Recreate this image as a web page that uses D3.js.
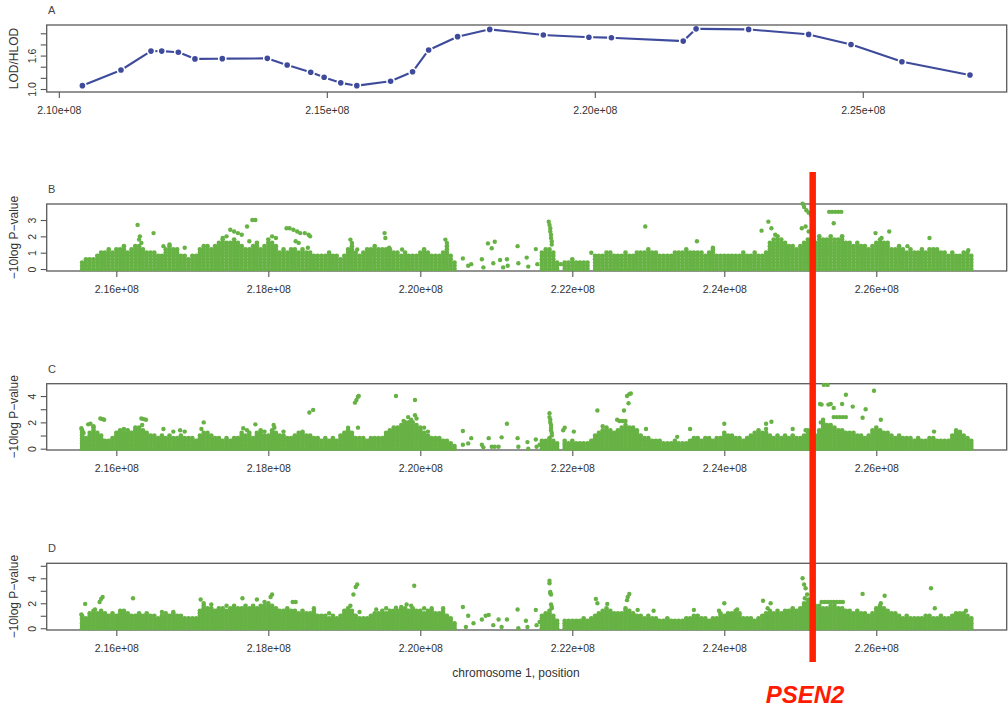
<!DOCTYPE html>
<html><head><meta charset="utf-8">
<script src="https://cdn.jsdelivr.net/npm/d3@7/dist/d3.min.js"></script>
<style>body{margin:0;background:#fff}svg{display:block}</style>
</head><body>
<svg id="c" width="1008" height="709"></svg>
<script>
// ---------- DATA (positions in Mb on chromosome 1) ----------
// Panel A: LOD/HLOD linkage curve
const lodPos = [210.44,211.16,211.72,211.92,212.23,212.54,213.05,213.89,214.26,214.70,214.95,215.26,215.56,216.19,216.60,216.90,217.44,218.04,219.04,219.89,220.31,221.65,221.89,222.87,223.99,224.78,225.73,227.00];
const lodVal = [1.06,1.34,1.68,1.68,1.66,1.54,1.545,1.55,1.43,1.30,1.21,1.11,1.06,1.14,1.31,1.70,1.94,2.07,1.97,1.93,1.92,1.86,2.08,2.07,1.98,1.80,1.49,1.25];

const xTicksA = [210,215,220,225];
const xLabelsA = ["2.10e+08","2.15e+08","2.20e+08","2.25e+08"];
const yTicksA = [1.0,1.2,1.4,1.6,1.8,2.0];
const yLabelsA = ["1.0","","","1.6","",""];

const xTicksP = [216,218,220,222,224,226];
const xLabelsP = ["2.16e+08","2.18e+08","2.20e+08","2.22e+08","2.24e+08","2.26e+08"];
const yTicksB = [0,1,2,3];
const yLabelsB = ["0","1","2","3"];
const yTicksC = [0,1,2,3,4];
const yLabelsC = ["0","","2","","4"];
const yTicksD = [0,1,2,3,4,5];
const yLabelsD = ["0","","2","","4",""];

const psen2Pos = 225.163;

// Panel B: SNP -10log P (columns: position, then the values of the SNPs there)
const bandB = [
[215.55,0,.2,.4],[215.60,0,.2,.4,.6],[215.65,0,.2,.4,.6],[215.70,0,.2,.4,.6],[215.75,0,.2,.4,.6,.8],
[215.80,0,.2,.4,.6,.8,1],[215.85,0,.2,.4,.6,.8,1],[215.90,0,.2,.4,.6,.8,1,1.2],[215.95,0,.2,.4,.6,.8,1],
[216.00,0,.2,.4,.6,.8,1,1.2],[216.05,0,.2,.4,.6,.8,1,1.2],[216.10,0,.2,.4,.6,.8,1,1.2,1.4],[216.15,0,.2,.4,.6,.8,1],
[216.20,0,.2,.4,.6,.8,1,1.2],[216.25,0,.2,.4,.6,.8,1,1.2,1.4],[216.30,0,.2,.4,.6,.8,1,1.2,1.4],[216.35,0,.2,.4,.6,.8,1,1.2],
[216.40,0,.2,.4,.6,.8,1],[216.45,0,.2,.4,.6,.8,1],[216.50,0,.2,.4,.6,.8,1],[216.55,0,.2,.4,.6,.8],[216.60,0,.2,.4,.6,.8],
[216.65,0,.2,.4,.6,.8,1,1.2],[216.70,0,.2,.4,.6,.8,1,1.2,1.4],[216.75,0,.2,.4,.6,.8,1,1.2],[216.80,0,.2,.4,.6,.8,1,1.2],
[216.85,0,.2,.4,.6,.8],[216.90,0,.2,.4,.6,.8],[216.95,0,.2,.4,.6],[217.00,0,.2,.4,.6,.8],[217.05,0,.2,.4,.6,.8],
[217.10,0,.2,.4,.6,.8,1,1.2],[217.15,0,.2,.4,.6,.8,1,1.2,1.4],[217.20,0,.2,.4,.6,.8,1,1.2,1.4],[217.25,0,.2,.4,.6,.8,1,1.2],
[217.30,0,.2,.4,.6,.8,1,1.2,1.4],[217.35,0,.2,.4,.6,.8,1,1.2,1.4,1.6],[217.40,0,.2,.4,.6,.8,1,1.2,1.4,1.6,1.8],
[217.45,0,.2,.4,.6,.8,1,1.2,1.4,1.6],[217.50,0,.2,.4,.6,.8,1,1.2,1.4,1.6],[217.55,0,.2,.4,.6,.8,1,1.2,1.4,1.6,1.8],
[217.60,0,.2,.4,.6,.8,1,1.2,1.4,1.6],[217.65,0,.2,.4,.6,.8,1,1.2,1.4],[217.70,0,.2,.4,.6,.8,1,1.2],[217.75,0,.2,.4,.6,.8,1,1.2],
[217.80,0,.2,.4,.6,.8,1,1.2,1.4],[217.85,0,.2,.4,.6,.8,1,1.2,1.4,1.6],[217.90,0,.2,.4,.6,.8,1,1.2],[217.95,0,.2,.4,.6,.8,1,1.2,1.4],
[218.00,0,.2,.4,.6,.8,1,1.2,1.4,1.6,1.8],[218.05,0,.2,.4,.6,.8,1,1.2,1.4,1.6],[218.10,0,.2,.4,.6,.8,1,1.2,1.4],[218.15,0,.2,.4,.6,.8,1],
[218.20,0,.2,.4,.6,.8,1,1.2],[218.25,0,.2,.4,.6,.8,1],[218.30,0,.2,.4,.6,.8,1,1.2],[218.35,0,.2,.4,.6,.8,1,1.2],[218.40,0,.2,.4,.6,.8,1],
[218.45,0,.2,.4,.6,.8,1,1.2],[218.50,0,.2,.4,.6,.8,1],[218.55,0,.2,.4,.6,.8,1],[218.60,0,.2,.4,.6,.8],[218.65,0,.2,.4,.6,.8],
[218.70,0,.2,.4,.6,.8],[218.75,0,.2,.4,.6,.8],[218.80,0,.2,.4,.6,.8,1],[218.85,0,.2,.4,.6,.8],[218.90,0,.2,.4,.6,.8],[218.95,0,.2,.4,.6],
[219.00,0,.2,.4,.6,.8],[219.05,0,.2,.4,.6,.8,1,1.2],[219.10,0,.2,.4,.6,.8,1,1.2,1.4],[219.15,0,.2,.4,.6,.8,1],[219.20,0,.2,.4,.6,.8],
[219.25,0,.2,.4,.6,.8,1],[219.30,0,.2,.4,.6,.8,1,1.2],[219.35,0,.2,.4,.6,.8,1,1.2],[219.40,0,.2,.4,.6,.8,1,1.2,1.4],
[219.45,0,.2,.4,.6,.8,1,1.2],[219.50,0,.2,.4,.6,.8,1,1.2],[219.55,0,.2,.4,.6,.8,1,1.2],[219.60,0,.2,.4,.6,.8,1,1.2],
[219.65,0,.2,.4,.6,.8,1],[219.70,0,.2,.4,.6,.8,1],[219.75,0,.2,.4,.6,.8],[219.80,0,.2,.4,.6,.8,1],[219.85,0,.2,.4,.6,.8],
[219.90,0,.2,.4,.6,.8],[219.95,0,.2,.4,.6,.8],[220.00,0,.2,.4,.6,.8,1],[220.05,0,.2,.4,.6,.8,1,1.2],[220.10,0,.2,.4,.6,.8,1],
[220.15,0,.2,.4,.6,.8],[220.20,0,.2,.4,.6,.8],[220.25,0,.2,.4,.6,.8],[220.30,0,.2,.4,.6,.8,1],[220.35,0,.2,.4,.6,.8,1,1.2,1.4],
[220.40,0,.2,.4,.6,.8],[220.45,0,.2,.4],
[221.60,0,.2,.4,.6,.8,1],[221.65,0,.2,.4,.6,.8,1,1.2],[221.70,0,.2,.4,.6,.8,1,1.2],[221.75,0,.2,.4,.6,.8,1],[221.80,0,.2,.4],
[221.90,0,.2,.4],[221.95,0,.2,.4],[222.00,0,.2,.4,.6],[222.05,0,.2,.4],[222.10,0,.2,.4],[222.15,0,.2,.4],[222.20,0,.2,.4],
[222.30,0,.2,.4,.6,.8],[222.35,0,.2,.4,.6,.8],[222.40,0,.2,.4,.6,.8],[222.45,0,.2,.4,.6,.8,1],[222.50,0,.2,.4,.6,.8,1],
[222.55,0,.2,.4,.6,.8],[222.60,0,.2,.4,.6,.8],[222.65,0,.2,.4,.6,.8],[222.70,0,.2,.4,.6,.8,1],[222.75,0,.2,.4,.6,.8],
[222.80,0,.2,.4,.6,.8],[222.85,0,.2,.4,.6,.8,1],[222.90,0,.2,.4,.6,.8,1],[222.95,0,.2,.4,.6,.8,1],[223.00,0,.2,.4,.6,.8,1,1.2],
[223.05,0,.2,.4,.6,.8,1],[223.10,0,.2,.4,.6,.8,1],[223.15,0,.2,.4,.6,.8],[223.20,0,.2,.4,.6,.8],[223.25,0,.2,.4,.6,.8],
[223.30,0,.2,.4,.6,.8],[223.35,0,.2,.4,.6,.8,1],[223.40,0,.2,.4,.6,.8,1],[223.45,0,.2,.4,.6,.8,1],[223.50,0,.2,.4,.6,.8,1,1.2],
[223.55,0,.2,.4,.6,.8,1],[223.60,0,.2,.4,.6,.8,1],[223.65,0,.2,.4,.6,.8,1],[223.70,0,.2,.4,.6,.8,1],[223.75,0,.2,.4,.6,.8],
[223.80,0,.2,.4,.6,.8,1],[223.85,0,.2,.4,.6,.8,1,1.2],[223.90,0,.2,.4,.6,.8],[223.95,0,.2,.4,.6,.8],[224.00,0,.2,.4,.6,.8],
[224.05,0,.2,.4,.6,.8],[224.10,0,.2,.4,.6,.8],[224.15,0,.2,.4,.6,.8],[224.20,0,.2,.4,.6,.8],[224.25,0,.2,.4,.6,.8,1],
[224.30,0,.2,.4,.6,.8],[224.35,0,.2,.4,.6,.8],[224.40,0,.2,.4,.6,.8,1],[224.45,0,.2,.4,.6,.8],[224.50,0,.2,.4,.6,.8],
[224.55,0,.2,.4,.6,.8,1],[224.60,0,.2,.4,.6,.8,1,1.2,1.4,1.6],[224.65,0,.2,.4,.6,.8,1,1.2,1.4,1.6,1.8],
[224.70,0,.2,.4,.6,.8,1,1.2,1.4,1.6,1.8,2],[224.75,0,.2,.4,.6,.8,1,1.2,1.4,1.6,1.8],[224.80,0,.2,.4,.6,.8,1,1.2,1.4,1.6],
[224.85,0,.2,.4,.6,.8,1,1.2,1.4],[224.90,0,.2,.4,.6,.8,1,1.2,1.4],[224.95,0,.2,.4,.6,.8,1,1.2],[225.00,0,.2,.4,.6,.8,1,1.2,1.4],
[225.05,0,.2,.4,.6,.8,1,1.2,1.4,1.6],[225.10,0,.2,.4,.6,.8,1,1.2,1.4,1.6,1.8],[225.15,0,.2,.4,.6,.8,1,1.2,1.4,1.6],
[225.20,0,.2,.4,.6,.8,1,1.2,1.4,1.6],[225.25,0,.2,.4,.6,.8,1,1.2,1.4,1.6,1.8,2],[225.30,0,.2,.4,.6,.8,1,1.2,1.4,1.6,1.8],
[225.35,0,.2,.4,.6,.8,1,1.2,1.4,1.6,1.8],[225.40,0,.2,.4,.6,.8,1,1.2,1.4,1.6,1.8,2],[225.45,0,.2,.4,.6,.8,1,1.2,1.4,1.6,1.8],
[225.50,0,.2,.4,.6,.8,1,1.2,1.4,1.6,1.8],[225.55,0,.2,.4,.6,.8,1,1.2,1.4,1.6,1.8,2],[225.60,0,.2,.4,.6,.8,1,1.2,1.4,1.6],
[225.65,0,.2,.4,.6,.8,1,1.2,1.4,1.6],[225.70,0,.2,.4,.6,.8,1,1.2,1.4],[225.75,0,.2,.4,.6,.8,1,1.2,1.4,1.6],
[225.80,0,.2,.4,.6,.8,1,1.2,1.4],[225.85,0,.2,.4,.6,.8,1,1.2,1.4],[225.90,0,.2,.4,.6,.8,1,1.2],[225.95,0,.2,.4,.6,.8,1,1.2,1.4],
[226.00,0,.2,.4,.6,.8,1,1.2,1.4,1.6],[226.05,0,.2,.4,.6,.8,1,1.2,1.4,1.6,1.8],[226.10,0,.2,.4,.6,.8,1,1.2,1.4,1.6],
[226.15,0,.2,.4,.6,.8,1,1.2,1.4,1.6],[226.20,0,.2,.4,.6,.8,1,1.2],[226.25,0,.2,.4,.6,.8,1,1.2],[226.30,0,.2,.4,.6,.8,1,1.2,1.4],
[226.35,0,.2,.4,.6,.8,1,1.2],[226.40,0,.2,.4,.6,.8,1],[226.45,0,.2,.4,.6,.8,1,1.2],[226.50,0,.2,.4,.6,.8,1],[226.55,0,.2,.4,.6,.8,1],
[226.60,0,.2,.4,.6,.8,1,1.2],[226.65,0,.2,.4,.6,.8,1],[226.70,0,.2,.4,.6,.8,1,1.2],[226.75,0,.2,.4,.6,.8,1,1.2],
[226.80,0,.2,.4,.6,.8,1,1.2],[226.85,0,.2,.4,.6,.8,1],[226.90,0,.2,.4,.6,.8,1],[226.95,0,.2,.4,.6,.8],[227.00,0,.2,.4,.6,.8,1],
[227.05,0,.2,.4,.6,.8],[227.10,0,.2,.4,.6,.8],[227.15,0,.2,.4,.6,.8,1],[227.20,0,.2,.4,.6,.8,1],[227.25,0,.2,.4,.6,.8]
];
const outB = [
[216.28,2.7],[216.31,2.0],[216.30,1.8],[216.33,1.6],[216.49,2.2],[216.62,1.4],[216.70,1.5],[216.90,1.3],[217.40,1.9],[217.45,2.0],
[217.50,2.4],[217.55,2.3],[217.60,2.2],[217.65,2.1],[217.72,2.6],[217.79,3.0],[217.83,3.0],[217.75,1.7],[218.10,1.9],[218.05,2.0],
[218.24,2.5],[218.28,2.5],[218.33,2.4],[218.38,2.3],[218.42,2.2],[218.48,2.2],[218.53,2.1],[218.55,2.0],[218.40,1.6],[218.36,1.7],
[218.52,1.3],[219.08,1.8],[219.10,1.6],[219.17,1.2],[219.53,2.2],[219.54,1.9],[219.59,1.3],[219.76,1.2],[220.33,1.8],[220.35,1.6],
[220.56,.65],[220.63,.2],[220.67,.3],[220.81,.6],[220.83,.1],[220.89,1.57],[220.94,1.27],[220.98,1.67],[220.96,.35],[221.05,.55],
[221.09,.1],[221.14,.6],[221.15,.2],[221.28,1.4],[221.29,.35],[221.40,.7],[221.42,.15],[221.52,1.22],[221.54,.3],
[221.69,2.9],[221.70,2.7],[221.71,2.5],[221.71,2.3],[221.72,2.1],[221.72,1.9],[221.73,1.7],[221.73,1.5],[221.85,.3],
[222.25,1.0],[222.96,2.6],[223.64,1.7],[223.85,1.3],[224.49,2.35],[224.58,2.9],[224.62,2.5],[224.67,2.1],
[225.03,4.0],[225.05,3.8],[225.08,3.6],[225.11,3.45],[225.14,3.3],[225.07,2.6],[225.11,2.3],[225.02,2.5],
[225.38,3.5],[225.42,3.5],[225.46,3.5],[225.50,3.5],[225.54,3.5],[225.44,2.8],[225.99,2.2],[226.17,2.3],[226.07,1.9],
[226.41,1.4],[226.70,1.9],[227.21,1.15]
];

// Panel C
const bandC = [
[215.55,0,.2,.4,.6,.8,1,1.2,1.4],[215.60,0,.2,.4,.6,.8],[215.65,0,.2,.4,.6,.8,1,1.2],[215.70,0,.2,.4,.6,.8,1,1.2,1.4,1.6],
[215.75,0,.2,.4,.6,.8,1,1.2],[215.80,0,.2,.4,.6,.8,1],[215.85,0,.2,.4,.6],[215.90,0,.2,.4,.6],[215.95,0,.2,.4,.6,.8],
[216.00,0,.2,.4,.6,.8,1,1.2],[216.05,0,.2,.4,.6,.8,1,1.2,1.4],[216.10,0,.2,.4,.6,.8,1,1.2],[216.15,0,.2,.4,.6,.8,1,1.2,1.4],
[216.20,0,.2,.4,.6,.8,1,1.2],[216.25,0,.2,.4,.6,.8,1,1.2,1.4,1.6],[216.30,0,.2,.4,.6,.8,1,1.2,1.4,1.6],[216.35,0,.2,.4,.6,.8,1,1.2,1.4],
[216.40,0,.2,.4,.6,.8,1,1.2],[216.45,0,.2,.4,.6,.8,1],[216.50,0,.2,.4,.6,.8,1],[216.55,0,.2,.4,.6,.8],[216.60,0,.2,.4,.6,.8,1],
[216.65,0,.2,.4,.6,.8],[216.70,0,.2,.4,.6,.8,1],[216.75,0,.2,.4,.6,.8],[216.80,0,.2,.4,.6,.8],[216.85,0,.2,.4,.6,.8,1],
[216.90,0,.2,.4,.6,.8],[216.95,0,.2,.4,.6,.8],[217.00,0,.2,.4,.6,.8],[217.05,0,.2,.4,.6],[217.10,0,.2,.4,.6,.8,1],
[217.15,0,.2,.4,.6,.8,1,1.2],[217.20,0,.2,.4,.6,.8,1,1.2],[217.25,0,.2,.4,.6,.8,1],[217.30,0,.2,.4,.6,.8],[217.35,0,.2,.4,.6,.8],
[217.40,0,.2,.4,.6],[217.45,0,.2,.4,.6,.8],[217.50,0,.2,.4,.6],[217.55,0,.2,.4,.6,.8],[217.60,0,.2,.4,.6,.8],
[217.65,0,.2,.4,.6,.8,1,1.2],[217.70,0,.2,.4,.6,.8,1],[217.75,0,.2,.4,.6,.8,1,1.2],[217.80,0,.2,.4,.6,.8],[217.85,0,.2,.4,.6,.8,1,1.2],
[217.90,0,.2,.4,.6,.8,1,1.2,1.4],[217.95,0,.2,.4,.6,.8,1],[218.00,0,.2,.4,.6,.8,1],[218.05,0,.2,.4,.6,.8,1,1.2,1.4],
[218.10,0,.2,.4,.6,.8,1,1.2],[218.15,0,.2,.4,.6,.8,1],[218.20,0,.2,.4,.6,.8,1],[218.25,0,.2,.4,.6,.8],[218.30,0,.2,.4,.6,.8],
[218.35,0,.2,.4,.6,.8,1],[218.40,0,.2,.4,.6,.8,1,1.2],[218.45,0,.2,.4,.6,.8,1,1.2],[218.50,0,.2,.4,.6,.8,1],[218.55,0,.2,.4,.6,.8,1],
[218.60,0,.2,.4,.6,.8],[218.65,0,.2,.4,.6,.8],[218.70,0,.2,.4,.6],[218.75,0,.2,.4,.6,.8],[218.80,0,.2,.4,.6],[218.85,0,.2,.4,.6,.8],
[218.90,0,.2,.4,.6],[218.95,0,.2,.4,.6,.8,1],[219.00,0,.2,.4,.6,.8,1,1.2],[219.05,0,.2,.4,.6,.8,1,1.2,1.4],[219.10,0,.2,.4,.6,.8,1,1.2],
[219.15,0,.2,.4,.6,.8],[219.20,0,.2,.4,.6,.8],[219.25,0,.2,.4,.6,.8],[219.30,0,.2,.4,.6],[219.35,0,.2,.4,.6,.8],[219.40,0,.2,.4,.6,.8],
[219.45,0,.2,.4,.6,.8],[219.50,0,.2,.4,.6,.8],[219.55,0,.2,.4,.6,.8,1,1.2],[219.60,0,.2,.4,.6,.8,1,1.2,1.4],
[219.65,0,.2,.4,.6,.8,1,1.2,1.4,1.6],[219.70,0,.2,.4,.6,.8,1,1.2,1.4,1.6],[219.75,0,.2,.4,.6,.8,1,1.2,1.4,1.6,1.8],
[219.80,0,.2,.4,.6,.8,1,1.2,1.4,1.6,1.8,2],[219.85,0,.2,.4,.6,.8,1,1.2,1.4,1.6,1.8,2],[219.90,0,.2,.4,.6,.8,1,1.2,1.4,1.6,1.8,2],
[219.95,0,.2,.4,.6,.8,1,1.2,1.4,1.6,1.8],[220.00,0,.2,.4,.6,.8,1,1.2,1.4,1.6],[220.05,0,.2,.4,.6,.8,1,1.2],[220.10,0,.2,.4,.6,.8,1],
[220.15,0,.2,.4,.6,.8],[220.20,0,.2,.4,.6,.8],[220.25,0,.2,.4,.6,.8],[220.30,0,.2,.4,.6],[220.35,0,.2,.4,.6],[220.40,0,.2,.4],[220.45,0,.2],
[221.60,0,.2,.4,.6],[221.65,0,.2,.4,.6],[221.70,0,.2,.4,.6,.8],[221.75,0,.2,.4,.6],[221.80,0,.2,.4],
[221.90,0,.2,.4,.6],[221.95,0,.2,.4],[222.00,0,.2,.4,.6],[222.05,0,.2,.4],[222.10,0,.2,.4],[222.15,0,.2,.4],[222.20,0,.2,.4],
[222.25,0,.2,.4,.6],[222.30,0,.2,.4,.6,.8,1],[222.35,0,.2,.4,.6,.8,1,1.2],[222.40,0,.2,.4,.6,.8,1,1.2,1.4],
[222.45,0,.2,.4,.6,.8,1,1.2,1.4,1.6],[222.50,0,.2,.4,.6,.8,1,1.2,1.4],[222.55,0,.2,.4,.6,.8,1,1.2],[222.60,0,.2,.4,.6,.8,1,1.2,1.4],
[222.65,0,.2,.4,.6,.8,1,1.2,1.4,1.6],[222.70,0,.2,.4,.6,.8,1,1.2,1.4,1.6,1.8],[222.75,0,.2,.4,.6,.8,1,1.2,1.4,1.6],
[222.80,0,.2,.4,.6,.8,1,1.2,1.4,1.6],[222.85,0,.2,.4,.6,.8,1,1.2,1.4],[222.90,0,.2,.4,.6,.8,1],[222.95,0,.2,.4,.6,.8],
[223.00,0,.2,.4,.6,.8],[223.05,0,.2,.4,.6],[223.10,0,.2,.4,.6],[223.15,0,.2,.4,.6],[223.20,0,.2,.4],[223.25,0,.2,.4],[223.30,0,.2,.4],
[223.35,0,.2,.4,.6],[223.40,0,.2,.4],[223.45,0,.2,.4],[223.50,0,.2,.4],[223.55,0,.2,.4,.6],[223.60,0,.2,.4,.6,.8],[223.65,0,.2,.4,.6,.8],
[223.70,0,.2,.4,.6],[223.75,0,.2,.4,.6,.8],[223.80,0,.2,.4,.6,.8],[223.85,0,.2,.4,.6],[223.90,0,.2,.4,.6,.8],[223.95,0,.2,.4,.6,.8],
[224.00,0,.2,.4,.6,.8,1,1.2],[224.05,0,.2,.4,.6,.8,1],[224.10,0,.2,.4,.6,.8,1],[224.15,0,.2,.4,.6,.8],[224.20,0,.2,.4,.6,.8],
[224.25,0,.2,.4,.6],[224.30,0,.2,.4,.6,.8],[224.35,0,.2,.4,.6,.8,1],[224.40,0,.2,.4,.6,.8,1,1.2],[224.45,0,.2,.4,.6,.8,1,1.2,1.4],
[224.50,0,.2,.4,.6,.8,1,1.2],[224.55,0,.2,.4,.6,.8,1,1.2],[224.60,0,.2,.4,.6,.8,1],[224.65,0,.2,.4,.6,.8],[224.70,0,.2,.4,.6,.8,1],
[224.75,0,.2,.4,.6,.8],[224.80,0,.2,.4,.6,.8,1],[224.85,0,.2,.4,.6,.8],[224.90,0,.2,.4,.6,.8,1],[224.95,0,.2,.4,.6,.8],
[225.00,0,.2,.4,.6,.8],[225.05,0,.2,.4,.6,.8,1],[225.10,0,.2,.4,.6,.8,1,1.2],[225.15,0,.2,.4,.6,.8,1],[225.20,0,.2,.4,.6,.8,1],
[225.25,0,.2,.4,.6,.8,1,1.2,1.4],[225.30,0,.2,.4,.6,.8,1,1.2,1.4,1.6,1.8,2],[225.35,0,.2,.4,.6,.8,1,1.2,1.4,1.6,1.8],
[225.40,0,.2,.4,.6,.8,1,1.2,1.4,1.6,1.8],[225.45,0,.2,.4,.6,.8,1,1.2,1.4,1.6],[225.50,0,.2,.4,.6,.8,1,1.2,1.4],
[225.55,0,.2,.4,.6,.8,1,1.2,1.4],[225.60,0,.2,.4,.6,.8,1,1.2],[225.65,0,.2,.4,.6,.8,1,1.2],[225.70,0,.2,.4,.6,.8,1,1.2],
[225.75,0,.2,.4,.6,.8,1],[225.80,0,.2,.4,.6,.8,1],[225.85,0,.2,.4,.6,.8],[225.90,0,.2,.4,.6,.8,1],[225.95,0,.2,.4,.6,.8,1,1.2,1.4],
[226.00,0,.2,.4,.6,.8,1,1.2,1.4,1.6],[226.05,0,.2,.4,.6,.8,1,1.2,1.4],[226.10,0,.2,.4,.6,.8,1,1.2],[226.15,0,.2,.4,.6,.8,1,1.2],
[226.20,0,.2,.4,.6,.8,1],[226.25,0,.2,.4,.6,.8],[226.30,0,.2,.4,.6,.8,1],[226.35,0,.2,.4,.6,.8],[226.40,0,.2,.4,.6,.8],
[226.45,0,.2,.4,.6,.8],[226.50,0,.2,.4,.6],[226.55,0,.2,.4,.6,.8],[226.60,0,.2,.4,.6],[226.65,0,.2,.4,.6],[226.70,0,.2,.4,.6,.8],
[226.75,0,.2,.4,.6,.8],[226.80,0,.2,.4,.6],[226.85,0,.2,.4,.6],[226.90,0,.2,.4,.6],[226.95,0,.2,.4,.6],[227.00,0,.2,.4,.6,.8,1],
[227.05,0,.2,.4,.6,.8,1,1.2],[227.10,0,.2,.4,.6,.8,1,1.2],[227.15,0,.2,.4,.6,.8,1],[227.20,0,.2,.4,.6,.8],[227.25,0,.2,.4,.6]
];
const outC = [
[215.54,1.55],[215.57,1.2],[215.63,1.85],[215.66,1.9],[215.70,1.7],[215.79,2.3],[215.82,2.25],[215.84,2.2],[216.10,1.5],
[216.33,2.3],[216.36,2.25],[216.39,2.2],[216.34,1.8],[216.62,1.5],[216.75,1.3],[216.90,1.3],[216.84,1.4],[217.15,2.0],[217.12,1.5],
[217.67,1.55],[217.72,1.4],[217.83,1.85],[217.95,1.3],[218.07,1.8],[218.08,1.6],[218.20,1.3],[218.54,2.75],[218.59,2.95],[218.45,1.3],
[219.05,1.6],[219.14,3.5],[219.16,3.7],[219.18,3.95],[219.19,4.0],[219.18,1.6],[219.68,4.0],[219.93,3.7],[219.84,2.4],[219.93,2.55],
[219.95,2.3],[219.88,2.2],[219.78,2.1],[220.05,1.6],[220.10,1.3],
[220.56,1.35],[220.56,.3],[220.63,.4],[220.67,.8],[220.81,.3],[220.83,.1],[220.90,.8],[220.94,.15],[220.98,.15],[221.03,.15],
[221.07,.86],[221.14,1.9],[221.28,.8],[221.29,.15],[221.41,.5],[221.42,0],[221.52,.7],[221.53,.15],[221.57,.3],
[221.70,2.7],[221.70,2.4],[221.71,2.2],[221.71,2.0],[221.72,1.8],[221.72,1.6],[221.72,1.4],[221.73,1.2],[221.73,1.0],
[221.88,1.4],[221.90,1.6],[222.02,1.3],[222.33,2.9],[222.40,1.7],[222.59,2.2],[222.68,2.9],[222.74,3.45],[222.72,4.0],[222.75,4.15],
[222.77,4.2],[222.62,2.1],[222.66,2.1],[222.70,2.1],[222.97,1.5],[223.38,.9],[223.55,1.5],[224.00,1.9],[224.55,1.9],[224.62,2.05],
[224.55,1.5],[224.90,1.5],[225.07,1.4],[225.10,1.4],
[225.26,3.4],[225.28,3.35],[225.31,4.85],[225.36,4.85],[225.37,3.35],[225.40,3.4],[225.44,3.1],[225.30,2.2],[225.27,2.0],
[225.44,2.4],[225.48,2.4],[225.52,2.4],[225.56,2.4],[225.60,2.4],[225.60,4.1],[225.55,3.4],[225.69,3.2],[225.82,2.35],[225.86,3.0],
[225.97,4.4],[226.06,2.2],[226.76,1.3],[227.05,1.4],[227.10,1.3]
];

// Panel D
const bandD = [
[215.55,0,.2,.4,.6,.8,1],[215.60,0,.2,.4,.6,.8],[215.65,0,.2,.4,.6,.8,1,1.2],[215.70,0,.2,.4,.6,.8,1,1.2,1.4],
[215.75,0,.2,.4,.6,.8,1,1.2],[215.80,0,.2,.4,.6,.8,1,1.2,1.4],[215.85,0,.2,.4,.6,.8,1,1.2],[215.90,0,.2,.4,.6,.8,1],
[215.95,0,.2,.4,.6,.8,1,1.2],[216.00,0,.2,.4,.6,.8,1],[216.05,0,.2,.4,.6,.8,1,1.2],[216.10,0,.2,.4,.6,.8,1,1.2,1.4],
[216.15,0,.2,.4,.6,.8,1,1.2],[216.20,0,.2,.4,.6,.8,1],[216.25,0,.2,.4,.6,.8,1],[216.30,0,.2,.4,.6,.8,1,1.2],[216.35,0,.2,.4,.6,.8,1],
[216.40,0,.2,.4,.6,.8,1,1.2],[216.45,0,.2,.4,.6,.8,1],[216.50,0,.2,.4,.6,.8,1],[216.55,0,.2,.4,.6,.8],[216.60,0,.2,.4,.6,.8,1],
[216.65,0,.2,.4,.6,.8,1,1.2],[216.70,0,.2,.4,.6,.8,1],[216.75,0,.2,.4,.6,.8,1,1.2],[216.80,0,.2,.4,.6,.8,1],[216.85,0,.2,.4,.6,.8,1],
[216.90,0,.2,.4,.6,.8],[216.95,0,.2,.4,.6,.8],[217.00,0,.2,.4,.6,.8],[217.05,0,.2,.4,.6,.8],[217.10,0,.2,.4,.6,.8,1,1.2,1.4],
[217.15,0,.2,.4,.6,.8,1,1.2,1.4,1.6,1.8],[217.20,0,.2,.4,.6,.8,1,1.2,1.4,1.6],[217.25,0,.2,.4,.6,.8,1,1.2,1.4,1.6],
[217.30,0,.2,.4,.6,.8,1,1.2,1.4],[217.35,0,.2,.4,.6,.8,1,1.2,1.4,1.6],[217.40,0,.2,.4,.6,.8,1,1.2,1.4,1.6],
[217.45,0,.2,.4,.6,.8,1,1.2,1.4],[217.50,0,.2,.4,.6,.8,1,1.2,1.4,1.6],[217.55,0,.2,.4,.6,.8,1,1.2,1.4,1.6,1.8],
[217.60,0,.2,.4,.6,.8,1,1.2,1.4,1.6],[217.65,0,.2,.4,.6,.8,1,1.2,1.4,1.6],[217.70,0,.2,.4,.6,.8,1,1.2,1.4,1.6,1.8],
[217.75,0,.2,.4,.6,.8,1,1.2,1.4,1.6],[217.80,0,.2,.4,.6,.8,1,1.2,1.4,1.6,1.8],[217.85,0,.2,.4,.6,.8,1,1.2,1.4,1.6],
[217.90,0,.2,.4,.6,.8,1,1.2,1.4,1.6,1.8],[217.95,0,.2,.4,.6,.8,1,1.2,1.4,1.6,1.8],[218.00,0,.2,.4,.6,.8,1,1.2,1.4,1.6,1.8,2],
[218.05,0,.2,.4,.6,.8,1,1.2,1.4,1.6,1.8],[218.10,0,.2,.4,.6,.8,1,1.2,1.4,1.6],[218.15,0,.2,.4,.6,.8,1,1.2,1.4],
[218.20,0,.2,.4,.6,.8,1,1.2,1.4],[218.25,0,.2,.4,.6,.8,1,1.2,1.4,1.6],[218.30,0,.2,.4,.6,.8,1,1.2,1.4],[218.35,0,.2,.4,.6,.8,1,1.2,1.4],
[218.40,0,.2,.4,.6,.8,1,1.2],[218.45,0,.2,.4,.6,.8,1,1.2,1.4],[218.50,0,.2,.4,.6,.8,1,1.2],[218.55,0,.2,.4,.6,.8,1,1.2],
[218.60,0,.2,.4,.6,.8,1,1.2,1.4],[218.65,0,.2,.4,.6,.8,1],[218.70,0,.2,.4,.6,.8,1],[218.75,0,.2,.4,.6,.8,1],[218.80,0,.2,.4,.6,.8],
[218.85,0,.2,.4,.6,.8,1],[218.90,0,.2,.4,.6,.8],[218.95,0,.2,.4,.6,.8,1],[219.00,0,.2,.4,.6,.8,1,1.2,1.4],
[219.05,0,.2,.4,.6,.8,1,1.2,1.4,1.6],[219.10,0,.2,.4,.6,.8,1,1.2,1.4],[219.15,0,.2,.4,.6,.8,1],[219.20,0,.2,.4,.6,.8],
[219.25,0,.2,.4,.6,.8],[219.30,0,.2,.4,.6,.8],[219.35,0,.2,.4,.6,.8,1],[219.40,0,.2,.4,.6,.8,1,1.2],[219.45,0,.2,.4,.6,.8,1,1.2],
[219.50,0,.2,.4,.6,.8,1,1.2,1.4],[219.55,0,.2,.4,.6,.8,1,1.2],[219.60,0,.2,.4,.6,.8,1,1.2,1.4],[219.65,0,.2,.4,.6,.8,1,1.2,1.4],
[219.70,0,.2,.4,.6,.8,1,1.2,1.4],[219.75,0,.2,.4,.6,.8,1,1.2,1.4,1.6],[219.80,0,.2,.4,.6,.8,1,1.2,1.4,1.6],
[219.85,0,.2,.4,.6,.8,1,1.2,1.4],[219.90,0,.2,.4,.6,.8,1,1.2,1.4,1.6],[219.95,0,.2,.4,.6,.8,1,1.2,1.4],
[220.00,0,.2,.4,.6,.8,1,1.2,1.4],[220.05,0,.2,.4,.6,.8,1,1.2],[220.10,0,.2,.4,.6,.8,1,1.2,1.4],[220.15,0,.2,.4,.6,.8,1,1.2,1.4],
[220.20,0,.2,.4,.6,.8,1,1.2],[220.25,0,.2,.4,.6,.8,1,1.2],[220.30,0,.2,.4,.6,.8,1,1.2,1.4],[220.35,0,.2,.4,.6,.8,1],
[220.40,0,.2,.4,.6,.8],[220.45,0,.2,.4],
[221.60,0,.2,.4,.6,.8,1],[221.65,0,.2,.4,.6,.8,1,1.2],[221.70,0,.2,.4,.6,.8,1,1.2,1.4],[221.75,0,.2,.4,.6,.8,1],[221.80,0,.2,.4,.6],
[221.90,0,.2,.4,.6],[221.95,0,.2,.4,.6],[222.00,0,.2,.4,.6],[222.05,0,.2,.4,.6],[222.10,0,.2,.4,.6],[222.15,0,.2,.4,.6,.8],
[222.20,0,.2,.4,.6],[222.25,0,.2,.4,.6,.8],[222.30,0,.2,.4,.6,.8,1],[222.35,0,.2,.4,.6,.8,1,1.2],[222.40,0,.2,.4,.6,.8,1,1.2,1.4],
[222.45,0,.2,.4,.6,.8,1,1.2,1.4,1.6],[222.50,0,.2,.4,.6,.8,1,1.2,1.4],[222.55,0,.2,.4,.6,.8,1,1.2],[222.60,0,.2,.4,.6,.8,1,1.2],
[222.65,0,.2,.4,.6,.8,1,1.2],[222.70,0,.2,.4,.6,.8,1,1.2,1.4,1.6],[222.75,0,.2,.4,.6,.8,1,1.2,1.4],[222.80,0,.2,.4,.6,.8,1,1.2],
[222.85,0,.2,.4,.6,.8,1],[222.90,0,.2,.4,.6,.8,1],[222.95,0,.2,.4,.6,.8],[223.00,0,.2,.4,.6,.8,1],[223.05,0,.2,.4,.6,.8],
[223.10,0,.2,.4,.6,.8],[223.15,0,.2,.4,.6],[223.20,0,.2,.4,.6],[223.25,0,.2,.4,.6,.8],[223.30,0,.2,.4,.6],[223.35,0,.2,.4,.6],
[223.40,0,.2,.4,.6],[223.45,0,.2,.4,.6],[223.50,0,.2,.4,.6,.8],[223.55,0,.2,.4,.6,.8],[223.60,0,.2,.4,.6,.8,1],[223.65,0,.2,.4,.6,.8,1],
[223.70,0,.2,.4,.6,.8],[223.75,0,.2,.4,.6,.8],[223.80,0,.2,.4,.6],[223.85,0,.2,.4,.6,.8],[223.90,0,.2,.4,.6,.8],
[223.95,0,.2,.4,.6,.8,1,1.2],[224.00,0,.2,.4,.6,.8,1],[224.05,0,.2,.4,.6,.8,1,1.2],[224.10,0,.2,.4,.6,.8,1,1.2],
[224.15,0,.2,.4,.6,.8,1,1.2,1.4],[224.20,0,.2,.4,.6,.8,1,1.2],[224.25,0,.2,.4,.6,.8],[224.30,0,.2,.4,.6,.8],[224.35,0,.2,.4,.6,.8],
[224.40,0,.2,.4,.6],[224.45,0,.2,.4,.6,.8],[224.50,0,.2,.4,.6,.8,1],[224.55,0,.2,.4,.6,.8,1,1.2],[224.60,0,.2,.4,.6,.8,1,1.2,1.4],
[224.65,0,.2,.4,.6,.8,1,1.2],[224.70,0,.2,.4,.6,.8,1,1.2,1.4],[224.75,0,.2,.4,.6,.8,1,1.2],[224.80,0,.2,.4,.6,.8,1,1.2,1.4],
[224.85,0,.2,.4,.6,.8,1,1.2,1.4],[224.90,0,.2,.4,.6,.8,1,1.2,1.4,1.6],[224.95,0,.2,.4,.6,.8,1,1.2,1.4],
[225.00,0,.2,.4,.6,.8,1,1.2,1.4,1.6],[225.05,0,.2,.4,.6,.8,1,1.2,1.4,1.6,1.8,2],[225.10,0,.2,.4,.6,.8,1,1.2,1.4,1.6,1.8,2,2.2],
[225.15,0,.2,.4,.6,.8,1,1.2,1.4,1.6,1.8],[225.20,0,.2,.4,.6,.8,1,1.2,1.4,1.6,1.8],[225.25,0,.2,.4,.6,.8,1,1.2,1.4,1.6,1.8],
[225.30,0,.2,.4,.6,.8,1,1.2,1.4,1.6],[225.35,0,.2,.4,.6,.8,1,1.2,1.4,1.6],[225.40,0,.2,.4,.6,.8,1,1.2,1.4,1.6,1.8],
[225.45,0,.2,.4,.6,.8,1,1.2,1.4,1.6,1.8],[225.50,0,.2,.4,.6,.8,1,1.2,1.4,1.6],[225.55,0,.2,.4,.6,.8,1,1.2,1.4,1.6],
[225.60,0,.2,.4,.6,.8,1,1.2,1.4],[225.65,0,.2,.4,.6,.8,1,1.2,1.4],[225.70,0,.2,.4,.6,.8,1,1.2],[225.75,0,.2,.4,.6,.8,1,1.2,1.4],
[225.80,0,.2,.4,.6,.8,1,1.2],[225.85,0,.2,.4,.6,.8,1,1.2],[225.90,0,.2,.4,.6,.8,1],[225.95,0,.2,.4,.6,.8,1,1.2],
[226.00,0,.2,.4,.6,.8,1,1.2,1.4,1.6],[226.05,0,.2,.4,.6,.8,1,1.2,1.4,1.6,1.8],[226.10,0,.2,.4,.6,.8,1,1.2,1.4,1.6],
[226.15,0,.2,.4,.6,.8,1,1.2,1.4],[226.20,0,.2,.4,.6,.8,1,1.2],[226.25,0,.2,.4,.6,.8,1,1.2],[226.30,0,.2,.4,.6,.8,1],
[226.35,0,.2,.4,.6,.8],[226.40,0,.2,.4,.6,.8,1],[226.45,0,.2,.4,.6,.8],[226.50,0,.2,.4,.6,.8],[226.55,0,.2,.4,.6,.8],
[226.60,0,.2,.4,.6,.8],[226.65,0,.2,.4,.6,.8,1],[226.70,0,.2,.4,.6,.8,1],[226.75,0,.2,.4,.6,.8],[226.80,0,.2,.4,.6,.8],
[226.85,0,.2,.4,.6,.8,1],[226.90,0,.2,.4,.6,.8],[226.95,0,.2,.4,.6,.8],[227.00,0,.2,.4,.6,.8,1],[227.05,0,.2,.4,.6,.8,1,1.2],
[227.10,0,.2,.4,.6,.8,1,1.2],[227.15,0,.2,.4,.6,.8,1,1.2],[227.20,0,.2,.4,.6,.8,1],[227.25,0,.2,.4,.6,.8]
];
const outD = [
[215.54,1.1],[215.59,1.95],[215.72,1.5],[215.78,2.1],[215.80,2.35],[215.82,2.5],[216.05,1.4],[216.22,2.4],[216.60,1.3],[216.75,1.3],
[217.11,2.3],[217.15,2.0],[217.25,1.9],[217.45,1.8],[217.66,2.4],[217.85,2.3],[217.95,2.1],[218.03,2.5],[218.05,2.7],[218.32,2.1],
[218.36,2.1],[218.60,1.6],[218.80,1.2],[219.08,1.8],[219.12,2.7],[219.15,3.3],[219.17,3.5],[219.20,1.3],[219.42,1.5],[219.55,1.6],
[219.68,1.65],[219.75,1.7],[219.82,1.9],[219.92,3.4],[219.88,1.8],[220.05,1.6],[220.15,1.6],[220.30,1.6],
[220.56,1.7],[220.60,.1],[220.63,1.0],[220.70,.4],[220.81,.7],[220.86,1.0],[220.90,1.07],[220.96,.25],[221.03,.7],[221.07,.1],
[221.14,.7],[221.28,1.5],[221.29,0],[221.39,.6],[221.41,.1],[221.52,1.47],[221.53,.25],[221.57,.5],
[221.70,3.8],[221.70,3.6],[221.71,2.9],[221.71,2.8],[221.72,2.7],[221.72,1.9],[221.73,1.7],[221.73,1.6],
[222.31,2.35],[222.33,2.0],[222.46,1.95],[222.72,2.25],[222.75,2.75],[222.73,2.5],[222.86,1.47],[223.07,1.4],[223.60,1.47],
[224.00,2.0],[223.93,1.4],[224.17,1.5],[224.51,2.2],[224.61,2.0],[224.57,1.6],
[225.03,4.0],[225.05,3.5],[225.07,3.2],[225.09,2.7],[225.06,2.4],[225.11,2.3],[225.28,2.1],[225.32,2.1],[225.36,2.1],[225.40,2.1],
[225.44,2.1],[225.48,2.1],[225.52,2.1],[225.56,2.1],[225.82,2.75],[226.06,2.0],[226.11,2.6],[226.72,3.2],[226.77,1.6],[227.18,1.4]
];

// ---------- DRAWING ----------
const svg = d3.select("#c");
const FONT = "'Liberation Sans', Arial, sans-serif";
const GREEN = "#67b244";
const NAVY = "#3e4b9c";
const L = 46.7, R = 1006.7;

const xA = d3.scaleLinear().domain([209.774, 227.685]).range([L, R]);
const xP = d3.scaleLinear().domain([215.084, 227.716]).range([L, R]);

function frame(top, bottom, x, y, xt, xl, yt, yl, letter, ytitle) {
  const g = svg.append("g");
  g.append("text").attr("x", 48).attr("y", top - 11).text(letter)
    .attr("font-family", FONT).attr("font-size", 11).attr("fill", "#444");
  const ax = g.append("g").attr("transform", `translate(0,${bottom})`)
    .call(d3.axisBottom(x).tickValues(xt).tickFormat((d, i) => xl[i]).tickSize(6).tickSizeOuter(0).tickPadding(9));
  ax.select(".domain").remove();
  ax.selectAll("line").attr("stroke", "#555").attr("stroke-width", 1.1);
  ax.selectAll("text").attr("font-family", FONT).attr("font-size", 10.5).attr("fill", "#333");
  const ay = g.append("g").attr("transform", `translate(${L},0)`)
    .call(d3.axisLeft(y).tickValues(yt).tickFormat((d, i) => yl[i]).tickSize(6).tickSizeOuter(0));
  ay.select(".domain").remove();
  ay.selectAll("line").attr("stroke", "#555").attr("stroke-width", 1.1);
  ay.selectAll("text").attr("x", 0).attr("dy", 0).attr("text-anchor", "middle")
    .attr("transform", "translate(-10.5,0) rotate(-90)")
    .attr("font-family", FONT).attr("font-size", 10.5).attr("fill", "#333");
  const cy = (top + bottom) / 2;
  g.append("text").attr("transform", `translate(18,${cy}) rotate(-90)`).attr("text-anchor", "middle")
    .attr("font-family", FONT).attr("font-size", 12).attr("fill", "#333").text(ytitle);
  g.append("rect").attr("x", L).attr("y", top).attr("width", R - L).attr("height", bottom - top)
    .attr("fill", "none").attr("stroke", "#5a5a5a").attr("stroke-width", 1.3);
  return g;
}

// Panel A
const yA = d3.scaleLinear().domain([0.946, 2.149]).range([92, 25]);
frame(25, 92, xA, yA, xTicksA, xLabelsA, yTicksA, yLabelsA, "A", "LOD/HLOD");
const ptsA = lodPos.map((p, i) => [xA(p), yA(lodVal[i])]);
const gap = 4.3;
const segs = [];
for (let i = 0; i < ptsA.length - 1; i++) {
  const [x1, y1] = ptsA[i], [x2, y2] = ptsA[i + 1];
  const len = Math.hypot(x2 - x1, y2 - y1);
  if (len > 2 * gap + 0.5) {
    const ux = (x2 - x1) / len, uy = (y2 - y1) / len;
    segs.push([x1 + ux * gap, y1 + uy * gap, x2 - ux * gap, y2 - uy * gap]);
  }
}
svg.append("g").selectAll("line").data(segs).join("line")
  .attr("x1", d => d[0]).attr("y1", d => d[1]).attr("x2", d => d[2]).attr("y2", d => d[3])
  .attr("stroke", NAVY).attr("stroke-width", 2.1);
svg.append("g").selectAll("circle").data(ptsA).join("circle")
  .attr("cx", d => d[0]).attr("cy", d => d[1]).attr("r", 2.8).attr("fill", NAVY);

// Scatter panels
function scatter(top, bottom, dom, band, out, yt, yl, letter) {
  const y = d3.scaleLinear().domain(dom).range([bottom, top]);
  frame(top, bottom, xP, y, xTicksP, xLabelsP, yt, yl, letter, "\u221210log P\u2212value");
  const pts = [];
  band.forEach(c => { for (let k = 1; k < c.length; k++) pts.push([c[0], c[k]]); });
  svg.append("g").selectAll("circle").data(pts).join("circle")
    .attr("cx", d => xP(d[0])).attr("cy", d => y(d[1])).attr("r", 2.35).attr("fill", GREEN);
  svg.append("g").selectAll("circle").data(out).join("circle")
    .attr("cx", d => xP(d[0])).attr("cy", d => y(d[1])).attr("r", 2.2).attr("fill", GREEN);
}
scatter(204, 271, [-0.12, 3.98], bandB, outB, yTicksB, yLabelsB, "B");
scatter(383.7, 450, [-0.1, 4.94], bandC, outC, yTicksC, yLabelsC, "C");
scatter(563.3, 630, [-0.14, 5.2], bandD, outD, yTicksD, yLabelsD, "D");

// x axis title
svg.append("text").attr("x", 516).attr("y", 677).attr("text-anchor", "middle")
  .attr("font-family", FONT).attr("font-size", 12).attr("fill", "#333").text("chromosome 1, position");

// PSEN2 marker
const xr = xP(psen2Pos);
svg.append("line").attr("x1", xr).attr("x2", xr).attr("y1", 172).attr("y2", 662)
  .attr("stroke", "#ff2200").attr("stroke-width", 6.5);
svg.append("text").attr("x", 805).attr("y", 703).attr("text-anchor", "middle")
  .attr("font-family", FONT).attr("font-weight", "bold").attr("font-style", "italic")
  .attr("font-size", 24).attr("fill", "#ff1a00").text("PSEN2");
</script>
</body></html>
